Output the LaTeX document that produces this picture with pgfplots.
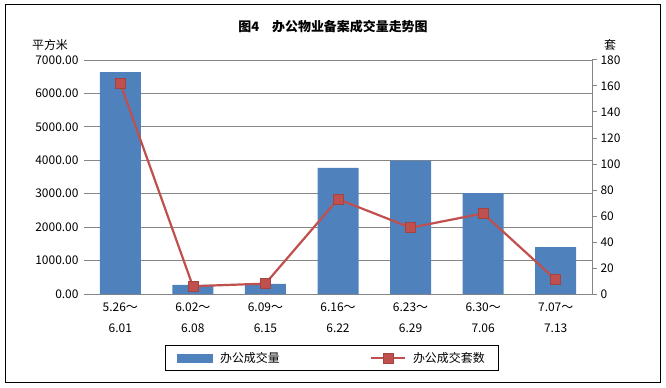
\documentclass[border=0pt]{standalone}
\usepackage{pgfplots}
\pgfplotsset{compat=1.18}
\usepackage{fontspec}
\setmainfont{Noto Sans CJK SC}
\definecolor{barblue}{HTML}{4F81BD}
\definecolor{linered}{HTML}{C0504D}
\definecolor{axgray}{HTML}{868686}
\begin{document}
\begin{tikzpicture}[x=1bp,y=1bp]
\useasboundingbox (0,0) rectangle (666,387);
\draw[black, line width=1bp] (5,5) rectangle (660,382);
\node[font=\bfseries\fontsize{13}{15}\selectfont] at (333,360) {图4\quad 办公物业备案成交量走势图};
\node[font=\fontsize{12}{14}\selectfont] at (50,342) {平方米};
\node[font=\fontsize{12}{14}\selectfont] at (610,342) {套};
\begin{axis}[
  at={(84bp,93bp)}, anchor=south west, scale only axis,
  width=508bp, height=234bp,
  xmin=-0.5, xmax=6.5, ymin=0, ymax=7000,
  axis x line*=bottom, axis y line*=left,
  x axis line style={-, draw=axgray, line width=1bp},
  y axis line style={-, draw=none},
  ytick={0,1000,...,7000},
  scaled y ticks=false,
  yticklabel style={font=\fontsize{12}{14}\selectfont, xshift=-2bp, /pgf/number format/.cd, fixed, fixed zerofill, precision=2, 1000 sep={}, assume math mode=true},
  xtick={0,...,6},
  xticklabels={{5.26～\\6.01},{6.02～\\6.08},{6.09～\\6.15},{6.16～\\6.22},{6.23～\\6.29},{6.30～\\7.06},{7.07～\\7.13}},
  xticklabel style={align=center, yshift=-5bp, font=\fontsize{12}{21}\selectfont},
  major tick length=0pt,
  ymajorgrids, grid style={draw=axgray, line width=1bp},
  ybar, bar width=41bp,
]
\addplot[fill=barblue, draw=none] coordinates {(0,6640) (1,270) (2,300) (3,3770) (4,3990) (5,3020) (6,1400)};
\end{axis}
\begin{axis}[
  at={(84bp,93bp)}, anchor=south west, scale only axis,
  width=508bp, height=234bp,
  xmin=-0.5, xmax=6.5, ymin=0, ymax=180,
  axis x line=none, axis y line*=right,
  y axis line style={-, draw=axgray, line width=1bp},
  ytick={0,20,...,180},
  yticklabel style={font=\fontsize{12}{14}\selectfont, /pgf/number format/assume math mode=true},
  ytick style={draw=axgray, line width=1bp},
  tick align=outside, major tick length=5bp,
  legend columns=2,
  legend style={at={(0.488,-0.274)}, anchor=center, draw=black, line width=1bp,
    font=\fontsize{12}{14}\selectfont, inner xsep=12bp, inner ysep=5bp,
    /tikz/every odd column/.append style={column sep=5bp},
    /tikz/every even column/.append style={column sep=88bp}},
]
\addlegendimage{legend image code/.code={\fill[barblue] (0bp,-4bp) rectangle (35bp,4bp);}}
\addlegendentry{办公成交量}
\addplot[color=linered, line width=2.2bp, mark=square*, mark size=5bp,
  mark options={fill=linered, draw=linered!85!black, line width=0.5bp},
  legend image code/.code={\draw[mark repeat=2, mark phase=2] plot coordinates {(0bp,0bp) (17bp,0bp) (34bp,0bp)};}]
  coordinates {(0,162) (1,6) (2,8) (3,73) (4,51) (5,62) (6,11)};
\addlegendentry{办公成交套数\hspace{58bp}}
\end{axis}
\end{tikzpicture}
\end{document}
